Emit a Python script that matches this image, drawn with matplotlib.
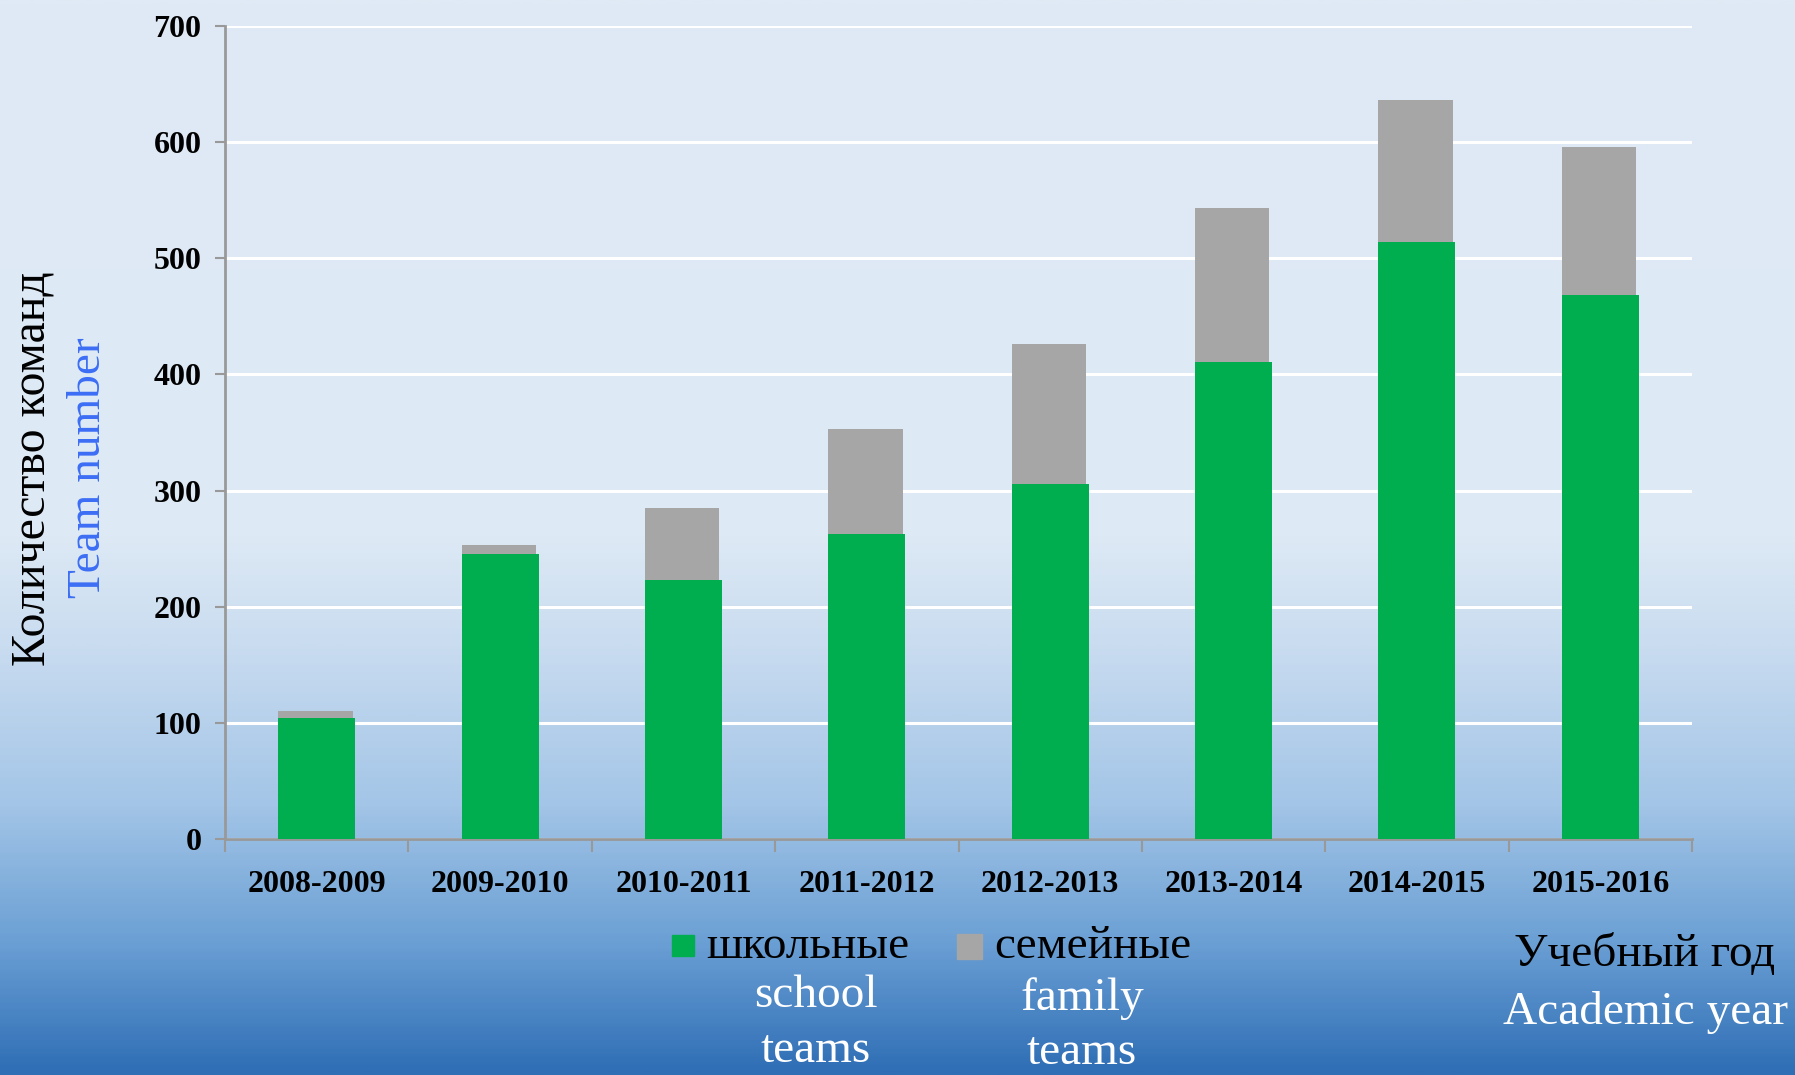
import numpy as np
import matplotlib.pyplot as plt
from matplotlib.colors import LinearSegmentedColormap

years = ['2008-2009', '2009-2010', '2010-2011', '2011-2012',
         '2012-2013', '2013-2014', '2014-2015', '2015-2016']
school = [104, 245, 223, 263, 306, 411, 514, 468]
family = [6, 8, 62, 90, 120, 132, 122, 128]

green = '#00ae4f'
grey = '#a6a6a6'

plt.rcParams['font.family'] = ['Liberation Serif', 'DejaVu Serif']

fig = plt.figure(figsize=(17.95, 10.75), dpi=100)

# background gradient
bg = fig.add_axes([0, 0, 1, 1], zorder=-10)
cmap = LinearSegmentedColormap.from_list('bg', [
    (0.0, '#dfeaf6'), (0.5, '#dde9f5'), (0.6, '#c9dcf0'),
    (0.75, '#a3c5e7'), (0.88, '#6a9fd4'), (1.0, '#2f6eb5')])
grad = np.linspace(0, 1, 400).reshape(-1, 1)
bg.imshow(grad, aspect='auto', cmap=cmap, extent=[0, 1, 1, 0])
bg.set_axis_off()

ax = fig.add_axes([0.1254, 0.2195, 0.8172, 0.7563])
ax.patch.set_alpha(0)

x = np.arange(len(years))
w = 0.42
ax.bar(x - w / 2, school, width=w, align='edge', color=green, zorder=3)
ax.bar(x - w / 2, family, width=w - 0.015, bottom=school, align='edge',
       color=grey, zorder=3)

ax.set_xlim(-0.5, len(years) - 0.5)
ax.set_ylim(0, 700)
ax.set_yticks(range(0, 701, 100))
ax.yaxis.grid(True, color='white', linewidth=2.2, zorder=1)
ax.set_axisbelow(True)

ax.set_xticks(x)
ax.set_xticklabels(years, fontsize=23, fontweight='bold')
ax.set_xticks(np.arange(-0.5, len(years)), minor=True)
ax.tick_params(axis='x', which='major', length=0, pad=22)
ax.tick_params(axis='x', which='minor', length=9, color='#999999', width=1.5)
ax.tick_params(axis='y', length=7, color='#999999', width=1.5, pad=10)
for lab in ax.get_yticklabels():
    lab.set_fontsize(23)
    lab.set_fontweight('bold')

for s in ['top', 'right']:
    ax.spines[s].set_visible(False)
for s in ['left', 'bottom']:
    ax.spines[s].set_color('#999999')
    ax.spines[s].set_linewidth(2)

# axis titles
fig.text(0.018, 0.564, 'Количество команд', rotation=90, fontsize=34.5,
         ha='center', va='center')
fig.text(0.0497, 0.565, 'Team number', rotation=90, fontsize=34,
         color='#3c6ef5', ha='center', va='center')
fig.text(0.9165, 0.112, 'Учебный год', fontsize=34, ha='center', va='center')
fig.text(0.9165, 0.058, 'Academic year', fontsize=34, color='white',
         ha='center', va='center')

# legend
fig.patches.append(plt.Rectangle((672 / 1795, 1 - 956 / 1075), 22 / 1795, 21 / 1075,
                                 transform=fig.transFigure, color=green))
fig.text(706 / 1795, 1 - 947 / 1075, 'школьные', fontsize=34, va='center')
fig.text(816 / 1795, 1 - 996 / 1075, 'school', fontsize=34, color='white',
         ha='center', va='center')
fig.text(816 / 1795, 1 - 1051 / 1075, 'teams', fontsize=34, color='white',
         ha='center', va='center')

fig.patches.append(plt.Rectangle((957 / 1795, 1 - 959 / 1075), 25 / 1795, 25 / 1075,
                                 transform=fig.transFigure, color=grey))
fig.text(994 / 1795, 1 - 947 / 1075, 'семейные', fontsize=34, va='center')
fig.text(1082 / 1795, 1 - 999 / 1075, 'family', fontsize=34, color='white',
         ha='center', va='center')
fig.text(1082 / 1795, 1 - 1053 / 1075, 'teams', fontsize=34, color='white',
         ha='center', va='center')

fig.savefig('out.png', dpi=100)
